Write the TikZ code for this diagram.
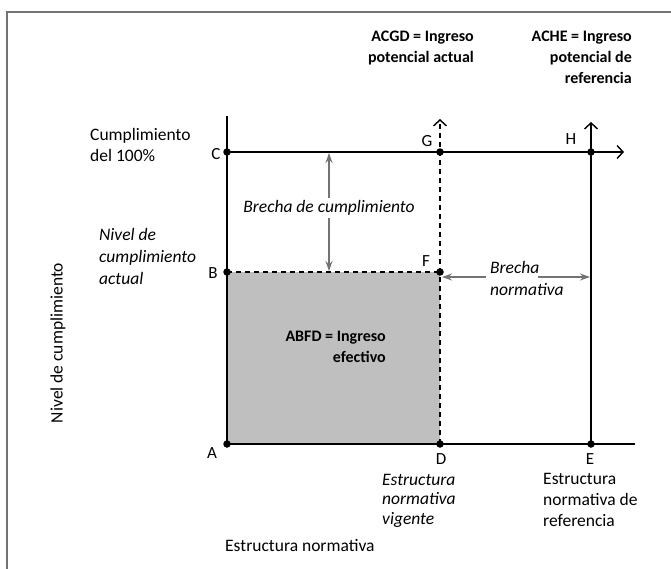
\documentclass[tikz,border=0pt]{standalone}
\usepackage{fontspec}
\setmainfont{Carlito}
\usetikzlibrary{arrows.meta}
\begin{document}
\begin{tikzpicture}[x=1pt,y=-1pt,
  dot/.style={circle,fill=black,inner sep=0pt,minimum size=7.5pt},
  lbl/.style={font=\fontsize{17}{21}\selectfont,inner sep=0pt},
  txt/.style={font=\fontsize{17.5}{21}\selectfont,inner sep=0pt,align=left},
  itxt/.style={font=\fontsize{17.5}{22}\selectfont\itshape,inner sep=0pt,align=left},
  btxt/.style={font=\fontsize{16}{21}\selectfont\bfseries,inner sep=0pt,align=right},
  axisline/.style={line width=2.4pt},
  openhead/.style={-{Straight Barb[length=6pt,width=13pt,line width=1.4pt]}},
  garrow/.style={draw=black!55,line width=1.3pt,-{Stealth[length=10pt,width=7pt]}},
  dashline/.style={line width=1.8pt,dash pattern=on 5pt off 4pt},
]
\useasboundingbox (0,0) rectangle (671,568);
\draw[black!55,line width=1.6pt] (7,12) rectangle (700,600);

% points
\coordinate (pA) at (227,444);
\coordinate (pB) at (227,272);
\coordinate (pC) at (227,152);
\coordinate (pD) at (440,444);
\coordinate (pF) at (440,272);
\coordinate (pG) at (440,152);
\coordinate (pH) at (591,152);
\coordinate (pE) at (591,444);
\coordinate (Ytop) at (227,116);
\coordinate (Xend) at (635,444);
\coordinate (Cend) at (624,152);
\coordinate (Gtop) at (440,119);
\coordinate (Htop) at (591,122);

\fill[black!25] (pA) rectangle (pF);

\draw[axisline] (pA) -- (Ytop);
\draw[axisline] (pA) -- (Xend);
\draw[axisline,openhead] (pC) -- (Cend);
\draw[dashline,openhead] (pD) -- (Gtop);
\draw[dashline] (pB) -- (pF);
\draw[line width=1.8pt,openhead] (pE) -- (Htop);

\node[dot] (A) at (pA) {};
\node[dot] (B) at (pB) {};
\node[dot] (C) at (pC) {};
\node[dot] (D) at (pD) {};
\node[dot] (F) at (pF) {};
\node[dot] (G) at (pG) {};
\node[dot] (H) at (pH) {};
\node[dot] (E) at (pE) {};

\node[lbl] (lA) at (212,453) {A};
\node[lbl] (lB) at (213,273.5) {B};
\node[lbl] (lC) at (216,154) {C};
\node[lbl] (lG) at (427,141) {G};
\node[lbl] (lH) at (571,139.5) {H};
\node[lbl] (lF) at (426,261) {F};
\node[lbl] (lD) at (441,459) {D};
\node[lbl] (lE) at (590,459) {E};

% brecha de cumplimiento
\node[itxt,inner ysep=2.5pt,anchor=base] (bc) at (329,212.5) {Brecha de cumplimiento};
\coordinate (bcT) at (329,153);
\coordinate (bcB) at (329,271);
\draw[garrow] (bc) -- (bcT);
\draw[garrow] (bc) -- (bcB);

% brecha normativa
\node[itxt,anchor=base west] (bn) at (490,295) {Brecha\\normativa};
\coordinate (bnL) at (486,277);
\coordinate (bnR) at (538,277);
\coordinate (Fr) at (442,277);
\coordinate (Hl) at (590,277);
\draw[garrow] (bnL) -- (Fr);
\draw[garrow] (bnR) -- (Hl);

% texts
\node[txt,anchor=base west] (t100) at (90,161) {Cumplimiento\\del 100\%};
\node[itxt,anchor=base west] (tniv) at (99,284) {Nivel de\\cumplimiento\\actual};
\node[btxt,anchor=base east] (tabfd) at (386,362) {ABFD = Ingreso\\efectivo};
\node[btxt,anchor=base east] (tacgd) at (474,62) {ACGD = Ingreso\\potencial actual};
\node[btxt,anchor=base east] (tache) at (632,83) {ACHE = Ingreso\\potencial de\\referencia};
\node[itxt,anchor=base west,font=\fontsize{17.5}{19.5}\selectfont\itshape] (tvig) at (382,524) {Estructura\\normativa\\vigente};
\node[txt,anchor=base west] (tref) at (543,526) {Estructura\\normativa de\\referencia};
\node[txt,anchor=base west] (tx) at (225,551) {Estructura normativa};
\node[txt,rotate=90] (ty) at (58,343) {Nivel de cumplimiento};
\end{tikzpicture}
\end{document}
